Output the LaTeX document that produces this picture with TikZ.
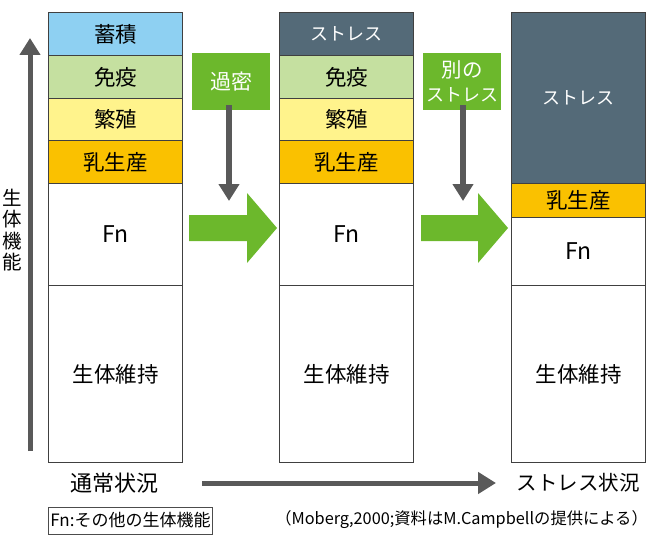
\documentclass[tikz,border=0pt]{standalone}
\usepackage{fontspec}
\setmainfont{Noto Sans CJK JP}
\usetikzlibrary{arrows.meta}
\definecolor{cblue}{RGB}{142,208,242}
\definecolor{clgreen}{RGB}{197,224,160}
\definecolor{cyellow}{RGB}{255,243,140}
\definecolor{corange}{RGB}{250,193,0}
\definecolor{cslate}{RGB}{84,106,120}
\definecolor{cgreen}{RGB}{108,184,44}
\definecolor{cgray}{RGB}{89,89,89}
\begin{document}
\begin{tikzpicture}[x=1pt,y=-1pt,
  seg/.style={draw=black!75,line width=1pt,minimum width=134pt,anchor=north west,inner sep=0pt,
    font=\fontsize{21.5}{24}\selectfont},
  stressseg/.style={seg,fill=cslate,text=white,font=\fontsize{18}{22}\selectfont},
  gbox/.style={fill=cgreen,text=white,inner sep=0pt,anchor=north west,align=center,
    font=\fontsize{21}{24}\selectfont},
  garrow/.style={fill=cgreen},
  grayarrow/.style={draw=cgray,line width=6pt,-{Triangle[width=20pt,length=17pt]}},
  lbl/.style={font=\fontsize{21.5}{24}\selectfont},
  small/.style={font=\fontsize{17}{20}\selectfont}]
\useasboundingbox (0,0) rectangle (652,540);
% column 1
\node[seg,fill=cblue,minimum height=43pt] (a1) at (48,12) {蓄積};
\node[seg,fill=clgreen,minimum height=43pt] (a2) at (48,55) {免疫};
\node[seg,fill=cyellow,minimum height=42pt] (a3) at (48,98) {繁殖};
\node[seg,fill=corange,minimum height=43pt] (a4) at (48,140) {乳生産};
\node[seg,fill=white,minimum height=102pt,font=\fontsize{23}{26}\selectfont] (a5) at (48,183) {Fn};
\node[seg,fill=white,minimum height=177pt] (a6) at (48,285) {生体維持};
% column 2
\node[stressseg,minimum height=43pt] (b1) at (279,12) {ストレス};
\node[seg,fill=clgreen,minimum height=43pt] (b2) at (279,55) {免疫};
\node[seg,fill=cyellow,minimum height=42pt] (b3) at (279,98) {繁殖};
\node[seg,fill=corange,minimum height=43pt] (b4) at (279,140) {乳生産};
\node[seg,fill=white,minimum height=102pt,font=\fontsize{23}{26}\selectfont] (b5) at (279,183) {Fn};
\node[seg,fill=white,minimum height=177pt] (b6) at (279,285) {生体維持};
% column 3
\node[stressseg,minimum height=171pt] (c1) at (511,12) {ストレス};
\node[seg,fill=corange,minimum height=34pt] (c2) at (511,183) {乳生産};
\node[seg,fill=white,minimum height=68pt,font=\fontsize{23}{26}\selectfont] (c3) at (511,217) {Fn};
\node[seg,fill=white,minimum height=177pt] (c4) at (511,285) {生体維持};
% green label boxes
\node[gbox,minimum width=78pt,minimum height=57pt] (g1) at (192,53) {過密};
\node[gbox,minimum width=78pt,minimum height=57pt] (g2) at (423,53)
  {{\fontsize{20.5}{26}\selectfont 別の}\\{\fontsize{18}{22}\selectfont ストレス}};
% gray down arrows
\coordinate (t1) at (229,201);
\coordinate (t2) at (463,201);
\draw[grayarrow] ([yshift=5pt]g1.south -| t1) -- (t1);
\draw[grayarrow] ([yshift=5pt]g2.south -| t2) -- (t2);
% big green arrows
\fill[garrow] (189,215) -- (247,215) -- (247,193) -- (277,228) -- (247,263) -- (247,241) -- (189,241) -- cycle;
\fill[garrow] (421,215) -- (478,215) -- (478,193) -- (508,228) -- (478,263) -- (478,241) -- (421,241) -- cycle;
% left vertical axis
\coordinate (v0) at (30,451);
\coordinate (v1) at (30,38);
\draw[draw=cgray,line width=5pt,-{Triangle[width=20pt,length=17pt]}] (v0) -- (v1);
\node[align=center,inner sep=0pt,font=\fontsize{19.5}{21.5}\selectfont] (axis) at (12,230) {生\\体\\機\\能};
% bottom
\node[lbl,font=\fontsize{22}{24}\selectfont] (n1) at (114,483) {通常状況};
\node[lbl,font=\fontsize{20.5}{24}\selectfont] (n2) at (578,483) {ストレス状況};
\coordinate (h0) at (202,483);
\coordinate (h1) at (496,483);
\draw[draw=cgray,line width=5pt,-{Triangle[width=21pt,length=18pt]}] (h0) -- (h1);
\node[small,draw=black!70,line width=0.8pt,anchor=west,inner sep=2pt,minimum height=27pt] (key) at (48,520.5) {Fn:その他の生体機能};
\node[small,anchor=east,inner sep=0pt,font=\fontsize{16.3}{19}\selectfont] (src) at (648,520) {（Moberg,2000;資料はM.Campbellの提供による）};
\end{tikzpicture}
\end{document}
